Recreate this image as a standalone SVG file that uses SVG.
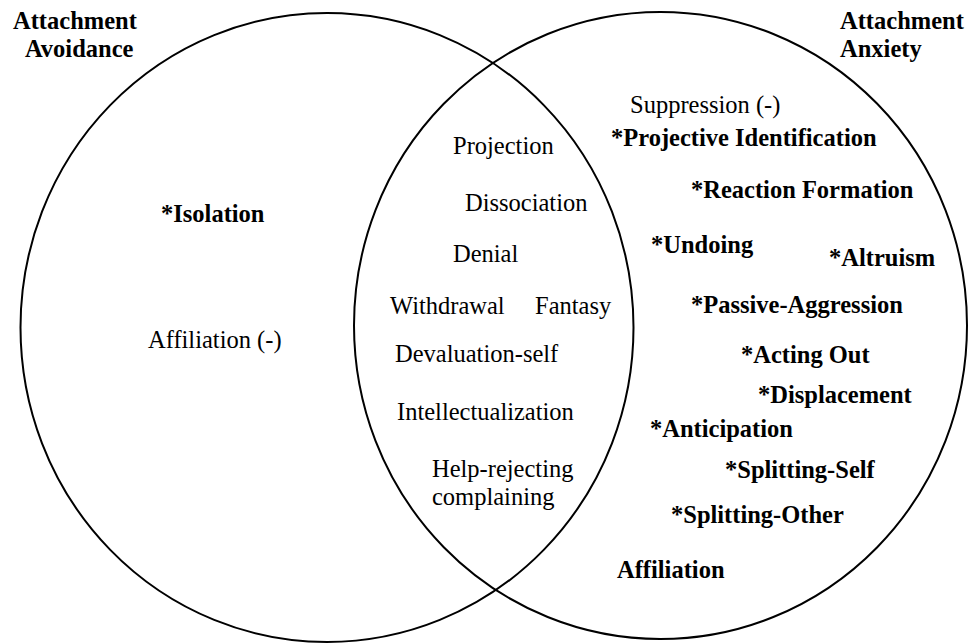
<svg xmlns="http://www.w3.org/2000/svg" width="974" height="644" viewBox="0 0 974 644">
<style>
.c{fill:none;stroke:#000;stroke-width:2}
text{font-family:"Liberation Serif","Times New Roman",serif;font-size:24.5px;fill:#000}
.b{font-weight:bold}
</style>
<rect width="974" height="644" fill="#fff"/>
<g id="circle-avoidance">
<ellipse class="c" cx="327" cy="327.5" rx="306.5" ry="314.5"/>
</g>
<g id="circle-anxiety">
<ellipse class="c" cx="660.5" cy="325.5" rx="306.5" ry="313.5"/>
</g>
<g id="title-avoidance">
<text class="b" x="13" y="29">Attachment</text>
<text class="b" x="25" y="57">Avoidance</text>
</g>
<g id="title-anxiety">
<text class="b" x="840" y="29">Attachment</text>
<text class="b" x="840" y="57">Anxiety</text>
</g>
<g id="avoidance-only">
<text class="b" x="161" y="222">*Isolation</text>
<text x="148" y="348">Affiliation (-)</text>
</g>
<g id="overlap">
<text x="453" y="154">Projection</text>
<text x="465" y="211">Dissociation</text>
<text x="453" y="262">Denial</text>
<text x="390" y="314">Withdrawal</text>
<text x="535" y="314">Fantasy</text>
<text x="395" y="362">Devaluation-self</text>
<text x="397" y="420">Intellectualization</text>
<text x="432" y="477">Help-rejecting</text>
<text x="432" y="505">complaining</text>
</g>
<g id="anxiety-only">
<text x="630" y="113">Suppression (-)</text>
<text class="b" x="611" y="146">*Projective Identification</text>
<text class="b" x="691" y="198">*Reaction Formation</text>
<text class="b" x="651" y="253">*Undoing</text>
<text class="b" x="829" y="266">*Altruism</text>
<text class="b" x="691" y="313">*Passive-Aggression</text>
<text class="b" x="741" y="363">*Acting Out</text>
<text class="b" x="758" y="403">*Displacement</text>
<text class="b" x="650" y="437">*Anticipation</text>
<text class="b" x="725" y="478">*Splitting-Self</text>
<text class="b" x="671" y="523">*Splitting-Other</text>
<text class="b" x="617" y="578">Affiliation</text>
</g>
<g id="connectors"></g>
</svg>
